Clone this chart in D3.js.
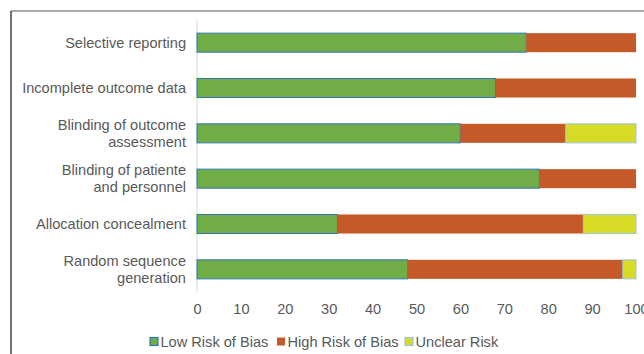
<!DOCTYPE html>
<html>
<head>
<meta charset="utf-8">
<script src="https://cdn.jsdelivr.net/npm/d3@7"></script>
<style>
  body { margin: 0; background: #fff; }
  svg { display: block; font-family: "Liberation Sans", Arial, sans-serif; }
</style>
</head>
<body>
<svg id="chart"></svg>
<script>
// categories, top to bottom
const categories = [
  ["Selective reporting"],
  ["Incomplete outcome data"],
  ["Blinding of outcome", "assessment"],
  ["Blinding of patiente", "and personnel"],
  ["Allocation concealment"],
  ["Random sequence", "generation"]
];
const seriesNames = ["Low Risk of Bias", "High Risk of Bias", "Unclear Risk"];
const lowRisk = [75, 68, 60, 78, 32, 48];
const highRisk = [25, 32, 24, 22, 56, 49];
const unclearRisk = [0, 0, 16, 0, 12, 3];
const xTicks = [0, 10, 20, 30, 40, 50, 60, 70, 80, 90, 100];

const colors = ["#70ad47", "#c55a28", "#d6dc26"];
const strokes = ["#2e75b6", "none", "#9dc3e6"];
const fontSize = 14.6;

const width = 644, height = 354;
const svg = d3.select("#chart").attr("width", width).attr("height", height);

// frame (cut off at right/bottom in the picture)
svg.append("line").attr("x1", 11).attr("x2", width).attr("y1", 11).attr("y2", 11)
  .attr("stroke", "#8c8c8c").attr("stroke-width", 1.5);
svg.append("line").attr("x1", 11).attr("x2", 11).attr("y1", 11).attr("y2", height)
  .attr("stroke", "#404040").attr("stroke-width", 1.5);

const x = d3.scaleLinear().domain([0, 100]).range([197, 636]);
const y = d3.scaleBand().domain(d3.range(categories.length)).range([20, 292]).paddingInner(0.58).paddingOuter(0.29);

const rows = categories.map((c, i) => ({ i, values: [lowRisk[i], highRisk[i], unclearRisk[i]] }));
const stack = d3.stack().keys([0, 1, 2]).value((d, k) => d.values[k]);
const stacked = stack(rows);

// y axis line
svg.append("line").attr("x1", x(0)).attr("x2", x(0)).attr("y1", 20).attr("y2", 292)
  .attr("stroke", "#d9d9d9").attr("stroke-width", 1);

// bars
stacked.forEach((layer, k) => {
  svg.append("g").selectAll("rect")
    .data(layer.filter(d => d[1] > d[0]))
    .enter()
    .append("rect")
    .attr("x", d => x(d[0]))
    .attr("y", d => y(d.data.i))
    .attr("width", d => x(d[1]) - x(d[0]))
    .attr("height", y.bandwidth())
    .attr("fill", colors[k])
    .attr("stroke", strokes[k])
    .attr("stroke-width", 1);
});

// category labels
const labels = svg.append("g").attr("font-size", fontSize).attr("fill", "#595959").attr("text-anchor", "end");
categories.forEach((lines, i) => {
  const cy = y(i) + y.bandwidth() / 2;
  const t = labels.append("text").attr("x", 186).attr("y", cy - (lines.length - 1) * 8.5 + 5);
  lines.forEach((ln, j) => t.append("tspan").attr("x", 186).attr("dy", j === 0 ? 0 : 17).text(ln));
});

// x axis tick labels
const xAxis = svg.append("g").attr("transform", "translate(0,292)")
  .call(d3.axisBottom(x).tickValues(xTicks).tickSize(0).tickPadding(12));
xAxis.select(".domain").remove();
xAxis.selectAll("text").attr("font-size", fontSize).attr("fill", "#595959").attr("font-family", "Liberation Sans, Arial, sans-serif");

// legend
const legendX = [150, 277, 405];
const legend = svg.append("g");
seriesNames.forEach((name, k) => {
  legend.append("rect").attr("x", legendX[k]).attr("y", 337.5).attr("width", 8).attr("height", 8)
    .attr("fill", colors[k]).attr("stroke", strokes[k]).attr("stroke-width", 1.2);
  legend.append("text").attr("x", legendX[k] + 10.5).attr("y", 347).attr("font-size", fontSize).attr("fill", "#595959").text(name);
});
</script>
</body>
</html>
